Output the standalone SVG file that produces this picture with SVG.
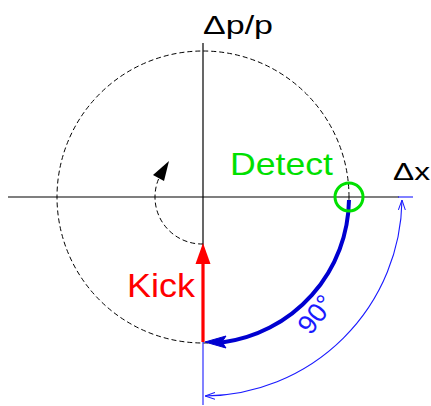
<svg xmlns="http://www.w3.org/2000/svg" width="431" height="406" viewBox="0 0 431 406">
<style>
text{font-family:"Liberation Sans",Arial,sans-serif}
.axis{stroke:#000;stroke-width:1.2;fill:none}
.dash{stroke:#000;stroke-width:1;fill:none;stroke-dasharray:5,3}
.dim{stroke:#1a1aff;stroke-width:1.1;fill:none}
</style>
<defs>
<marker id="thin" viewBox="0 0 10 8" refX="10" refY="4" markerWidth="10" markerHeight="8" markerUnits="userSpaceOnUse" orient="auto"><path d="M0,0.5L10,4L0,7.5" fill="none" stroke="#1a1aff" stroke-width="1"/></marker>
<marker id="thinS" viewBox="0 0 10 8" refX="0" refY="4" markerWidth="10" markerHeight="8" markerUnits="userSpaceOnUse" orient="auto"><path d="M10,0.5L0,4L10,7.5" fill="none" stroke="#1a1aff" stroke-width="1"/></marker>
</defs>
<g id="axes">
<line class="axis" x1="8" y1="197" x2="399" y2="197"/>
<line class="axis" x1="203" y1="43" x2="203" y2="342"/>
<text x="203" y="34" font-size="26" textLength="70" lengthAdjust="spacingAndGlyphs">Δp/p</text>
<text x="393" y="180" font-size="24" textLength="37" lengthAdjust="spacingAndGlyphs">Δx</text>
</g>
<g id="orbit">
<circle class="dash" cx="203" cy="197" r="146"/>
</g>
<g id="connectors">
<path class="dash" d="M203,244 A47,47 0 0 1 159,178"/>
<path d="M169,161 L164,181 L153,175 Z" fill="#000"/>
<path d="M349,200 A146,146 0 0 1 222,342.5" fill="none" stroke="#0000d0" stroke-width="4"/>
<path d="M205,342 L226,336 L222,342 L226,348 Z" fill="#0000d0" stroke="#0000d0" stroke-width="1"/>
<line x1="203" y1="342" x2="203" y2="258" stroke="#ff0000" stroke-width="3.2"/>
<path d="M203,243 L210.5,264 L195.5,264 Z" fill="#ff0000"/>
</g>
<g id="dimension">
<line class="dim" x1="398" y1="197" x2="413" y2="197"/>
<line class="dim" x1="203" y1="342" x2="203" y2="405"/>
<path class="dim" d="M402,200 A199,199 0 0 1 205,396" marker-start="url(#thinS)" marker-end="url(#thin)"/>
<text transform="translate(323,320) rotate(-52)" text-anchor="middle" font-size="27" fill="#1a1aff">90°</text>
</g>
<g id="detect">
<circle cx="349" cy="197" r="14" fill="none" stroke="#00e000" stroke-width="3"/>
<text x="230" y="175" font-size="32" fill="#00e000" textLength="103" lengthAdjust="spacingAndGlyphs">Detect</text>
</g>
<g id="kick">
<text x="127" y="297" font-size="33" fill="#ff0000" textLength="68" lengthAdjust="spacingAndGlyphs">Kick</text>
</g>
</svg>
